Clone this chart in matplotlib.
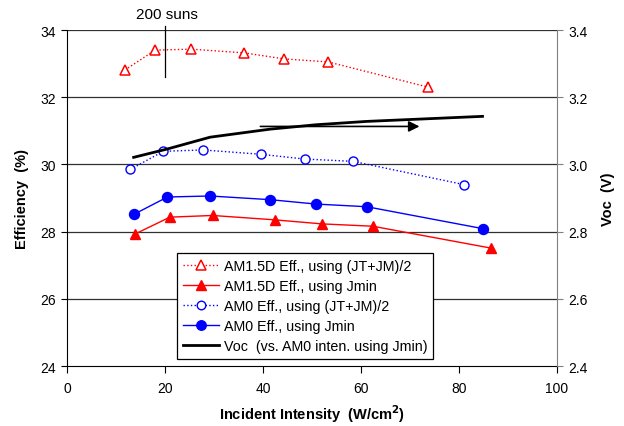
import matplotlib
matplotlib.use("Agg")
import matplotlib.pyplot as plt

plt.rcParams['font.family'] = ['Liberation Sans', 'DejaVu Sans']

# Data
x_am15_avg = [11.8, 18.0, 25.3, 36.1, 44.3, 53.3, 73.7]
y_am15_avg = [32.81, 33.40, 33.43, 33.32, 33.14, 33.05, 32.30]

x_am15_min = [13.9, 21.0, 29.7, 42.4, 52.0, 62.4, 86.5]
y_am15_min = [27.93, 28.43, 28.48, 28.35, 28.23, 28.16, 27.51]

x_am0_avg = [12.9, 19.65, 27.8, 39.65, 48.5, 58.4, 81.0]
y_am0_avg = [29.85, 30.39, 30.43, 30.30, 30.16, 30.09, 29.40]

x_am0_min = [13.6, 20.5, 29.2, 41.5, 50.8, 61.2, 84.8]
y_am0_min = [28.51, 29.03, 29.06, 28.95, 28.82, 28.74, 28.09]

x_voc = [13.6, 20.5, 29.2, 41.5, 50.8, 61.2, 84.8]
y_voc = [3.021, 3.046, 3.081, 3.105, 3.118, 3.128, 3.143]

labels = ["AM1.5D Eff., using (JT+JM)/2",
          "AM1.5D Eff., using Jmin",
          "AM0 Eff., using (JT+JM)/2",
          "AM0 Eff., using Jmin",
          "Voc  (vs. AM0 inten. using Jmin)"]

fig = plt.figure(figsize=(6.24, 4.27), dpi=100)
ax = fig.add_axes([0.1074, 0.1405, 0.7852, 0.7869])
ax2 = ax.twinx()

red = '#ff0000'
blue = '#0000ff'

l1, = ax.plot(x_am15_avg, y_am15_avg, ls=':', color=red, lw=1, marker='^',
              mfc='white', mec=red, ms=7.5, mew=1.1, label=labels[0])
l2, = ax.plot(x_am15_min, y_am15_min, ls='-', color=red, lw=1, marker='^',
              mfc=red, mec=red, ms=7.5, label=labels[1])
l3, = ax.plot(x_am0_avg, y_am0_avg, ls=':', color=blue, lw=1, marker='o',
              mfc='white', mec=blue, ms=6.5, mew=1.0, label=labels[2])
l4, = ax.plot(x_am0_min, y_am0_min, ls='-', color=blue, lw=1, marker='o',
              mfc=blue, mec=blue, ms=7.2, label=labels[3])
l5, = ax2.plot(x_voc, y_voc, ls='-', color='black', lw=2, label=labels[4])

ax.set_xlim(0, 100)
ax.set_ylim(24, 34)
ax2.set_ylim(2.4, 3.4)
ax.set_xticks([0, 20, 40, 60, 80, 100])
ax.set_yticks([24, 26, 28, 30, 32, 34])
ax2.set_yticks([2.4, 2.6, 2.8, 3.0, 3.2, 3.4])
ax2.set_yticklabels(['2.4', '2.6', '2.8', '3.0', '3.2', '3.4'])

for y in [26, 28, 30, 32, 34]:
    ax.axhline(y, color='#303030', lw=0.9, zorder=0.5)

for s in ['top', 'right']:
    ax.spines[s].set_visible(False)
ax2.spines['top'].set_visible(False)
ax2.spines['left'].set_visible(False)
ax2.spines['bottom'].set_visible(False)
ax2.spines['right'].set_color('#808080')
ax.spines['left'].set_color('black')
ax.spines['bottom'].set_color('black')

ax.tick_params(axis='both', labelsize=10, length=4, width=0.8, direction='out', pad=4)
ax.tick_params(axis='x', length=5, pad=6)
ax2.tick_params(axis='y', labelsize=10, length=4, width=0.8, direction='out', colors='#808080',
                labelcolor='black', pad=4)

ax.set_xlabel("Incident Intensity  (W/cm$^\\mathbf{2}$)", fontsize=10.5, fontweight='bold', labelpad=5)
ax.set_ylabel("Efficiency  (%)", fontsize=10.5, fontweight='bold', labelpad=8)
ax2.set_ylabel("Voc  (V)", fontsize=10.5, fontweight='bold', labelpad=10, rotation=90)

# 200 suns marker
ax.plot([20.06, 20.06], [34.13, 32.61], color='black', lw=0.9, clip_on=False)
ax.text(20.3, 34.48, "200 suns", fontsize=11, ha='center', va='center', clip_on=False)

# arrow pointing to right axis
ax.annotate('', xy=(72.5, 31.13), xytext=(38.9, 31.13),
            arrowprops=dict(arrowstyle='-|>', color='black', lw=1.2, mutation_scale=16))

leg = ax2.legend(handles=[l1, l2, l3, l4, l5], loc='lower left',
                 bbox_to_anchor=(0.2245, 0.021), fontsize=10.3, frameon=True,
                 fancybox=False, edgecolor='black', framealpha=1,
                 handlelength=2.5, handletextpad=0.35, labelspacing=0.42,
                 borderpad=0.4, borderaxespad=0, markerscale=0.95)
leg.get_frame().set_linewidth(0.9)

fig.savefig("out.png", dpi=100)
